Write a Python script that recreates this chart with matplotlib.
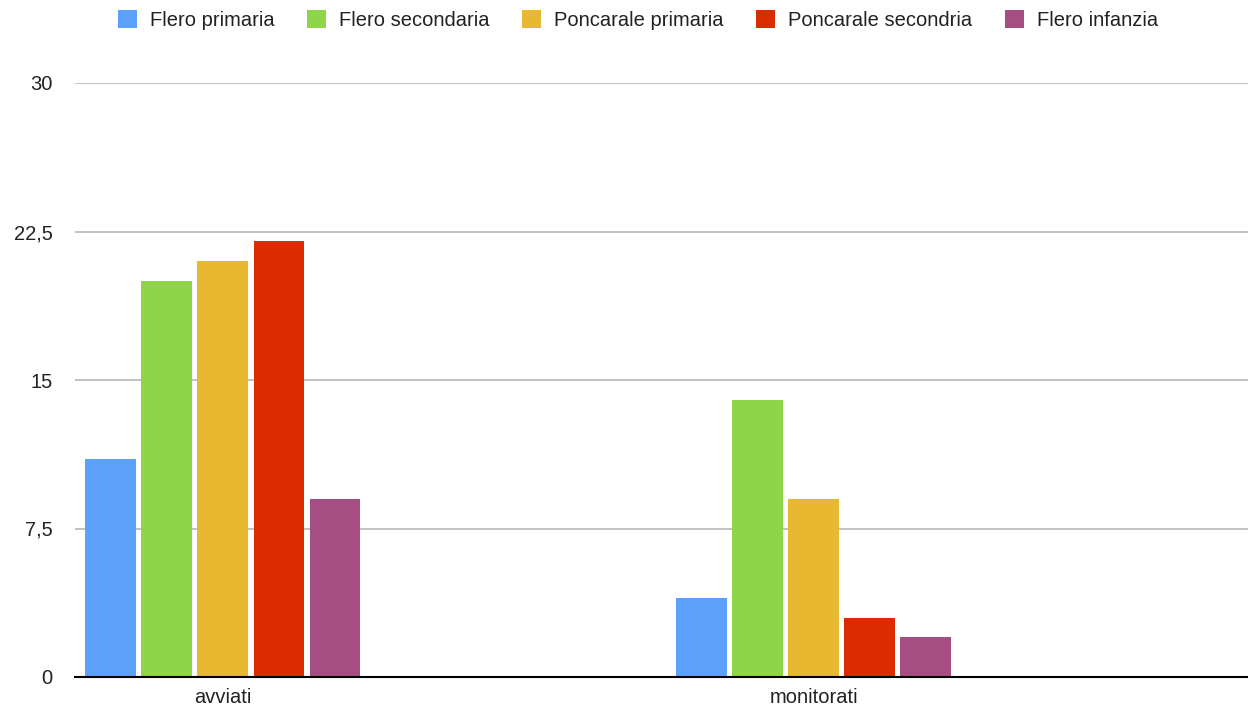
import numpy as np
import matplotlib.pyplot as plt
from matplotlib.ticker import FuncFormatter
from matplotlib.patches import Patch

categories = ['avviati', 'monitorati']
series = ['Flero primaria', 'Flero secondaria', 'Poncarale primaria',
          'Poncarale secondria', 'Flero infanzia']
values = [
    [11, 4],
    [20, 14],
    [21, 9],
    [22, 3],
    [9, 2],
]
colors = ['#5ba1fc', '#8fd54a', '#e8b830', '#db2c00', '#a64d84']
yticks = [0, 7.5, 15, 22.5, 30]

plt.rcParams['font.family'] = ['Liberation Sans', 'DejaVu Sans']

fig = plt.figure(figsize=(12.48, 7.12), dpi=100)
ax = fig.add_axes([75 / 1248, 1 - 677 / 712, 1 - 75 / 1248, (677 - 83) / 712])

x = np.arange(len(categories))
pitch = 0.0948
width = 0.0863
for i, (name, vals) in enumerate(zip(series, values)):
    ax.bar(x + (i - 2) * pitch, vals, width, color=colors[i], label=name, zorder=3)

ax.set_xlim(-0.2505, 1.735)
ax.set_ylim(0, 30)
ax.set_yticks(yticks)
ax.yaxis.set_major_formatter(FuncFormatter(lambda v, p: ('%g' % v).replace('.', ',')))
ax.set_xticks(x)
ax.set_xticklabels(categories)
ax.grid(axis='y', color='#bdbdbd', linewidth=1.3, zorder=0)
for s in ['top', 'right', 'left']:
    ax.spines[s].set_visible(False)
ax.spines['bottom'].set_color('black')
ax.spines['bottom'].set_linewidth(1.5)
ax.spines['bottom'].set_zorder(4)
ax.tick_params(axis='both', length=0, labelsize=14.5, colors='#222222')
ax.tick_params(axis='y', pad=16)
ax.tick_params(axis='x', pad=8)

handles = [Patch(facecolor=c, label=n) for c, n in zip(colors, series)]
fig.legend(handles=handles, loc='center', bbox_to_anchor=(638 / 1248, 1 - 20 / 712), ncol=5,
           frameon=False, fontsize=14.5, handlelength=0.95, handleheight=0.95,
           handletextpad=0.65, columnspacing=1.6, labelcolor='#222222')

fig.savefig('out.png', dpi=100)
